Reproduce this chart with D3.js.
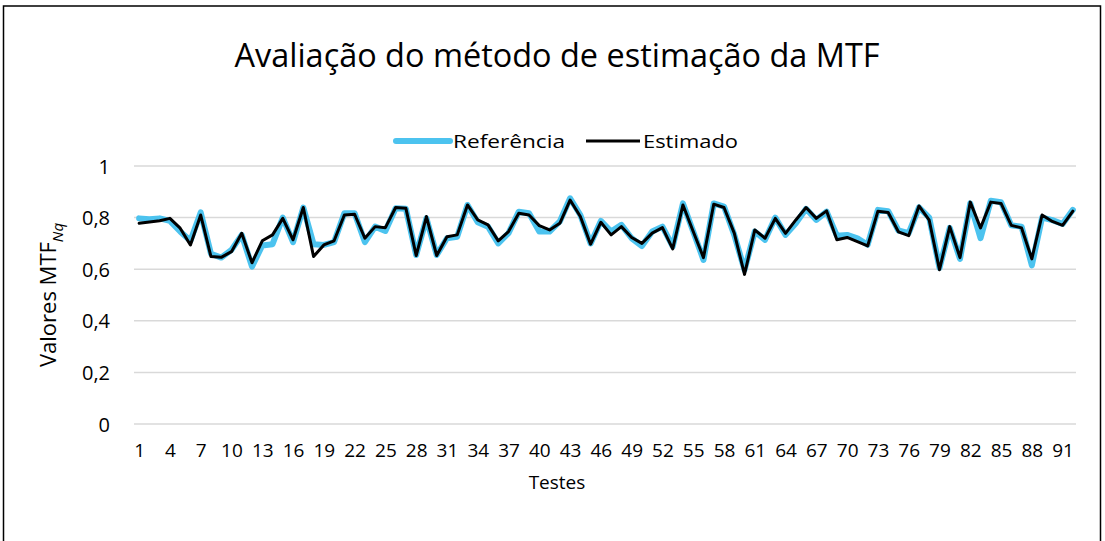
<!DOCTYPE html>
<html>
<head>
<meta charset="utf-8">
<script src="https://cdn.jsdelivr.net/npm/d3@7"></script>
<style>
  body { margin: 0; background: #fff; }
  text { font-family: "Open Sans", "Noto Sans", sans-serif; fill: #000; }
</style>
</head>
<body>
<svg id="chart" width="1105" height="541"></svg>
<script>
// ---------------------------------------------------------------- data ---- //
var testes = d3.range(1, 93);

var referencia = [
  0.797, 0.794, 0.797, 0.787, 0.746, 0.710, 0.820, 0.660, 0.645, 0.675,
  0.733, 0.610, 0.692, 0.697, 0.800, 0.705, 0.839, 0.697, 0.694, 0.705,
  0.817, 0.817, 0.705, 0.765, 0.748, 0.836, 0.834, 0.655, 0.797, 0.655,
  0.720, 0.726, 0.849, 0.782, 0.765, 0.700, 0.740, 0.823, 0.817, 0.746,
  0.746, 0.785, 0.875, 0.810, 0.700, 0.787, 0.746, 0.772, 0.720, 0.690,
  0.746, 0.765, 0.688, 0.855, 0.746, 0.636, 0.855, 0.843, 0.733, 0.597,
  0.746, 0.714, 0.800, 0.733, 0.778, 0.834, 0.791, 0.823, 0.730, 0.733,
  0.720, 0.695, 0.830, 0.825, 0.750, 0.740, 0.840, 0.800, 0.605, 0.760,
  0.640, 0.855, 0.720, 0.865, 0.860, 0.770, 0.765, 0.615, 0.800, 0.790,
  0.775, 0.830
];

var estimado = [
  0.778, 0.783, 0.788, 0.797, 0.759, 0.694, 0.810, 0.649, 0.646, 0.668,
  0.739, 0.625, 0.710, 0.733, 0.797, 0.714, 0.839, 0.649, 0.694, 0.710,
  0.810, 0.813, 0.720, 0.765, 0.761, 0.839, 0.836, 0.653, 0.804, 0.653,
  0.726, 0.733, 0.849, 0.791, 0.772, 0.710, 0.746, 0.817, 0.810, 0.769,
  0.752, 0.778, 0.868, 0.804, 0.697, 0.782, 0.733, 0.765, 0.723, 0.700,
  0.740, 0.761, 0.679, 0.849, 0.746, 0.645, 0.852, 0.839, 0.740, 0.580,
  0.752, 0.720, 0.797, 0.739, 0.791, 0.839, 0.797, 0.826, 0.714, 0.723,
  0.707, 0.690, 0.825, 0.820, 0.745, 0.730, 0.845, 0.790, 0.598, 0.765,
  0.645, 0.860, 0.760, 0.860, 0.855, 0.770, 0.760, 0.640, 0.810, 0.785,
  0.770, 0.825
];

var yTicks = [0, 0.2, 0.4, 0.6, 0.8, 1];
var xTicks = testes.filter(function(d) { return (d - 1) % 3 === 0; });

var seriesNames = ["Referência", "Estimado"];
var seriesColors = ["#4cc3ef", "#000000"];
var seriesWidths = [6, 3];

// -------------------------------------------------------------- layout ---- //
var svg = d3.select("#chart");

var plot = { left: 134, right: 1078, top: 166, bottom: 424 };

var x = d3.scalePoint()
    .domain(testes)
    .range([plot.left, plot.right])
    .padding(0.5);

var y = d3.scaleLinear()
    .domain([0, 1])
    .range([plot.bottom, plot.top]);

// outer frame
svg.append("rect")
    .attr("x", 3.5).attr("y", 6)
    .attr("width", 1097).attr("height", 560)
    .attr("fill", "none")
    .attr("stroke", "#000")
    .attr("stroke-width", 1.5);

// title, stretched to the width it has in the picture
svg.append("text")
    .attr("x", 557).attr("y", 67)
    .attr("text-anchor", "middle")
    .attr("font-size", 32)
    .attr("textLength", 645)
    .attr("lengthAdjust", "spacingAndGlyphs")
    .text("Avaliação do método de estimação da MTF");

// gridlines
svg.append("g")
    .selectAll("line")
    .data(yTicks)
    .join("line")
    .attr("x1", plot.left).attr("x2", plot.right - 2)
    .attr("y1", function(d) { return y(d); })
    .attr("y2", function(d) { return y(d); })
    .attr("stroke", "#d9d9d9")
    .attr("stroke-width", 1.5);

// y axis labels
var yAxis = svg.append("g")
    .attr("transform", "translate(" + (plot.left - 24) + ",0)")
    .call(d3.axisLeft(y)
        .tickValues(yTicks)
        .tickSize(0)
        .tickFormat(function(d) { return String(d).replace(".", ","); }));
yAxis.select(".domain").remove();
yAxis.selectAll("text")
    .attr("font-size", 20)
    .attr("font-family", "\"Open Sans\", sans-serif")
    .attr("fill", "#000")
    .attr("dy", "0.35em")
    .attr("x", 0);

// x axis labels
var xAxis = svg.append("g")
    .attr("transform", "translate(0," + (plot.bottom + 19) + ")")
    .call(d3.axisBottom(x)
        .tickValues(xTicks)
        .tickSize(0));
xAxis.select(".domain").remove();
xAxis.selectAll("text")
    .attr("font-size", 19)
    .attr("font-family", "\"Open Sans\", sans-serif")
    .attr("fill", "#000")
    .attr("y", 0)
    .attr("dy", "0.71em");

// axis titles
svg.append("text")
    .attr("x", 557).attr("y", 489)
    .attr("text-anchor", "middle")
    .attr("font-size", 19)
    .text("Testes");

var yTitle = svg.append("text")
    .attr("transform", "translate(56,295) rotate(-90)")
    .attr("text-anchor", "middle")
    .attr("font-size", 22);
yTitle.append("tspan").text("Valores MTF");
yTitle.append("tspan")
    .attr("font-size", 15)
    .attr("font-style", "italic")
    .attr("dy", 7)
    .text("Nq");

// lines
var line = d3.line()
    .x(function(d, i) { return x(testes[i]); })
    .y(function(d) { return y(d); });

[referencia, estimado].forEach(function(values, k) {
    svg.append("path")
        .datum(values)
        .attr("d", line)
        .attr("fill", "none")
        .attr("stroke", seriesColors[k])
        .attr("stroke-width", seriesWidths[k])
        .attr("stroke-linejoin", "round")
        .attr("stroke-linecap", "round");
});

// legend
var legendX = [396, 586];
var legendTextW = [112, 95];
seriesNames.forEach(function(name, k) {
    var g = svg.append("g").attr("transform", "translate(" + legendX[k] + ",141)");
    g.append("line")
        .attr("x1", 0).attr("x2", 54)
        .attr("stroke", seriesColors[k])
        .attr("stroke-width", seriesWidths[k])
        .attr("stroke-linecap", k === 0 ? "round" : "butt");
    g.append("text")
        .attr("x", 57).attr("y", 0)
        .attr("dy", "0.35em")
        .attr("font-size", 19)
        .attr("textLength", legendTextW[k])
        .attr("lengthAdjust", "spacingAndGlyphs")
        .text(name);
});
</script>
</body>
</html>
